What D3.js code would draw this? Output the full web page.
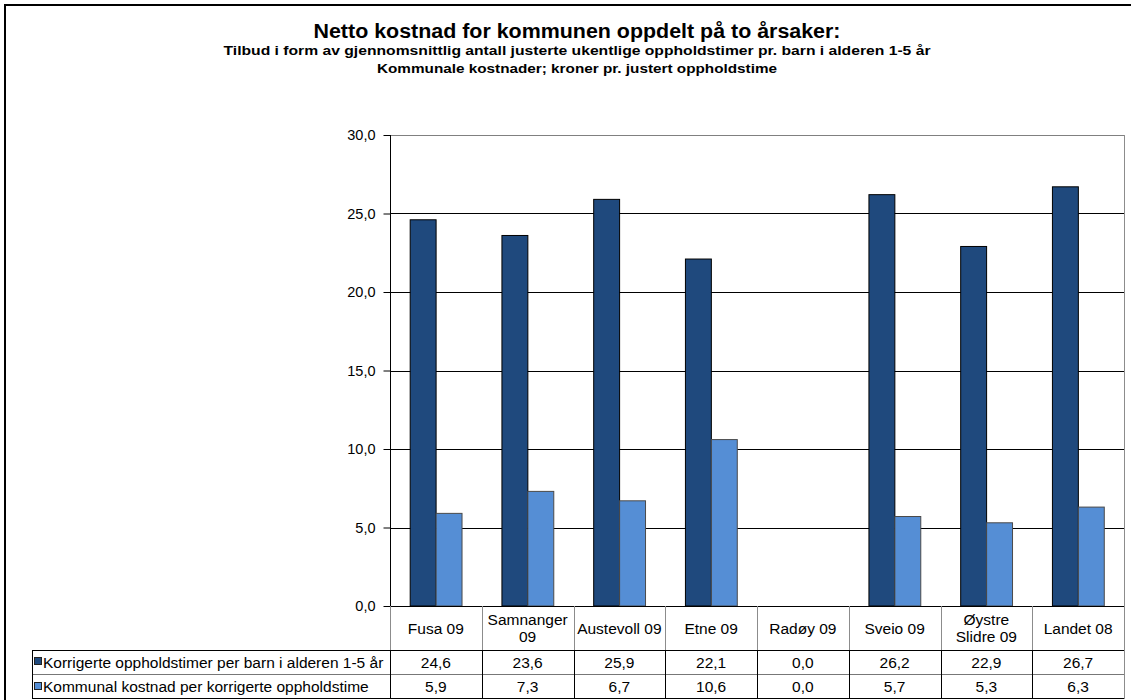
<!DOCTYPE html>
<html>
<head>
    <meta charset="utf-8">
    <script src="https://d3js.org/d3.v7.min.js"></script>
    <style>
        body { margin: 0; background: #fff; font-family: Arial, "Liberation Sans", Helvetica, sans-serif; }
        svg { display: block; }
        .grid line { stroke-width: 1px; }
        .cell { font-size: 15.5px; fill: #000; }
    </style>
</head>
<body>
    <svg width="1131" height="700"></svg>
    <script>
        // Chart data
        let categories = ["Fusa 09", "Samnanger 09", "Austevoll 09", "Etne 09", "Radøy 09", "Sveio 09", "Øystre Slidre 09", "Landet 08"];
        let categoryLines = [["Fusa 09"], ["Samnanger", "09"], ["Austevoll 09"], ["Etne 09"], ["Radøy 09"], ["Sveio 09"], ["Øystre", "Slidre 09"], ["Landet 08"]];
        let seriesNames = ["Korrigerte oppholdstimer per barn i alderen 1-5 år", "Kommunal kostnad per korrigerte oppholdstime"];
        let timer = [24.6, 23.6, 25.9, 22.1, 0.0, 26.2, 22.9, 26.7];
        let kostnad = [5.9, 7.3, 6.7, 10.6, 0.0, 5.7, 5.3, 6.3];
        let yTicks = [0, 5, 10, 15, 20, 25, 30];
        let colors = ["#1f497d", "#558ed5"];
        let strokes = ["#000", "#4a4a4a"];

        let series = [timer, kostnad];
        let fmt = v => d3.format(".1f")(v).replace(".", ",");

        let svg = d3.select("svg");

        // Outer chart frame (only top and left edges are visible)
        svg.append("path")
            .attr("d", "M5,700 V5 H1131")
            .attr("fill", "none")
            .attr("stroke", "#000")
            .attr("stroke-width", 2);

        // Titles
        let titles = [
            { text: "Netto kostnad for kommunen oppdelt på to årsaker:", y: 38, size: 20, len: 527 },
            { text: "Tilbud i form av gjennomsnittlig antall justerte ukentlige oppholdstimer pr. barn i alderen 1-5 år", y: 55, size: 12, len: 707 },
            { text: "Kommunale kostnader; kroner pr. justert oppholdstime", y: 73, size: 12, len: 400 }
        ];
        svg.selectAll(".title")
            .data(titles)
            .enter()
            .append("text")
            .attr("class", "title")
            .attr("x", 577)
            .attr("y", d => d.y)
            .attr("text-anchor", "middle")
            .attr("font-weight", "bold")
            .attr("font-size", d => d.size)
            .attr("textLength", d => d.len)
            .attr("lengthAdjust", "spacingAndGlyphs")
            .text(d => d.text);

        // Scales
        let plotLeft = 390, plotRight = 1124, plotTop = 135, plotBottom = 606;
        let x = d3.scaleBand().domain(categories).range([plotLeft, plotRight]).padding(0);
        let step = x.step();
        let xs = d3.scaleBand().domain([0, 1]).range([step * 0.22, step * 0.785]).padding(0);
        let y = d3.scaleLinear().domain([0, 30]).range([plotBottom, plotTop]);

        // Gridlines
        svg.append("g")
            .attr("class", "grid")
            .selectAll("line")
            .data(yTicks.slice(1))
            .enter()
            .append("line")
            .attr("x1", plotLeft)
            .attr("x2", plotRight)
            .attr("y1", d => Math.round(y(d)) + 0.5)
            .attr("y2", d => Math.round(y(d)) + 0.5)
            .attr("stroke", d => d === 30 ? "#808080" : "#000");

        // Right border of plot area and table
        svg.append("line")
            .attr("x1", plotRight + 0.5).attr("x2", plotRight + 0.5)
            .attr("y1", plotTop).attr("y2", 699)
            .attr("stroke", "#8c8c8c");

        // Bars
        series.forEach((vals, s) => {
            svg.append("g")
                .selectAll("rect")
                .data(vals)
                .enter()
                .append("rect")
                .attr("x", (d, i) => x(categories[i]) + xs(s))
                .attr("y", d => y(d))
                .attr("width", xs.bandwidth())
                .attr("height", d => y(0) - y(d))
                .attr("fill", colors[s])
                .attr("stroke", d => d > 0 ? strokes[s] : "none")
                .attr("stroke-width", 1);
        });

        // Y axis
        let yAxis = d3.axisLeft(y)
            .tickValues(yTicks)
            .tickSize(7)
            .tickPadding(8)
            .tickFormat(fmt);
        let ga = svg.append("g")
            .attr("transform", "translate(" + (plotLeft + 0.5) + ",0)")
            .call(yAxis);
        ga.select(".domain").attr("stroke", "#000").attr("d", "M0," + plotTop + "V" + plotBottom);
        ga.selectAll(".tick line").attr("stroke", "#000");
        ga.selectAll(".tick text")
            .attr("font-size", 14.5)
            .attr("font-family", "Arial, 'Liberation Sans', sans-serif")
            .attr("fill", "#000");

        // Data table
        let tableLeft = 32, rowTop = [606, 650, 674, 699];

        // Horizontal lines
        svg.append("line")
            .attr("x1", plotLeft).attr("x2", plotRight)
            .attr("y1", plotBottom + 0.5).attr("y2", plotBottom + 0.5)
            .attr("stroke", "#000");
        svg.append("line")
            .attr("x1", tableLeft).attr("x2", plotRight)
            .attr("y1", rowTop[1] + 0.5).attr("y2", rowTop[1] + 0.5)
            .attr("stroke", "#000");
        svg.append("line")
            .attr("x1", tableLeft).attr("x2", plotRight)
            .attr("y1", rowTop[2] + 0.5).attr("y2", rowTop[2] + 0.5)
            .attr("stroke", "#777");
        svg.append("line")
            .attr("x1", tableLeft).attr("x2", plotRight)
            .attr("y1", rowTop[3] - 0.5).attr("y2", rowTop[3] - 0.5)
            .attr("stroke", "#000");
        svg.append("line")
            .attr("x1", tableLeft + 0.5).attr("x2", tableLeft + 0.5)
            .attr("y1", rowTop[1]).attr("y2", rowTop[3])
            .attr("stroke", "#000");

        // Vertical cell dividers
        let bounds = categories.map(c => x(c));
        svg.append("g")
            .selectAll("line")
            .data(bounds)
            .enter()
            .append("line")
            .attr("x1", d => Math.round(d) + 0.5)
            .attr("x2", d => Math.round(d) + 0.5)
            .attr("y1", plotBottom)
            .attr("y2", rowTop[1])
            .attr("stroke", "#8c8c8c");
        svg.append("g")
            .selectAll("line")
            .data(bounds)
            .enter()
            .append("line")
            .attr("x1", d => Math.round(d) + 0.5)
            .attr("x2", d => Math.round(d) + 0.5)
            .attr("y1", rowTop[1])
            .attr("y2", rowTop[3])
            .attr("stroke", "#000");

        // Category labels
        let cat = svg.append("g")
            .selectAll("text")
            .data(categories)
            .enter()
            .append("text")
            .attr("class", "cell")
            .attr("text-anchor", "middle")
            .attr("x", d => x(d) + step / 2)
            .attr("y", (d, i) => categoryLines[i].length === 1 ? 634 : 625);
        cat.selectAll("tspan")
            .data((d, i) => categoryLines[i])
            .enter()
            .append("tspan")
            .attr("x", function () { return this.parentNode.getAttribute("x"); })
            .attr("dy", (d, j) => j === 0 ? 0 : 17)
            .text(d => d);

        // Rows: legend key, name, values
        series.forEach((vals, s) => {
            let cy = (rowTop[s + 1] + rowTop[s + 2]) / 2;
            svg.append("rect")
                .attr("x", 34.5)
                .attr("y", Math.round(cy) - 4.5)
                .attr("width", 7)
                .attr("height", 7)
                .attr("fill", colors[s])
                .attr("stroke", "#222")
                .attr("stroke-width", 1);
            svg.append("text")
                .attr("class", "cell")
                .attr("x", 43)
                .attr("y", cy + 5.5)
                .text(seriesNames[s]);
            svg.append("g")
                .selectAll("text")
                .data(vals)
                .enter()
                .append("text")
                .attr("class", "cell")
                .attr("text-anchor", "middle")
                .attr("x", (d, i) => x(categories[i]) + step / 2)
                .attr("y", cy + 5.5)
                .text(d => fmt(d));
        });
    </script>
</body>
</html>
